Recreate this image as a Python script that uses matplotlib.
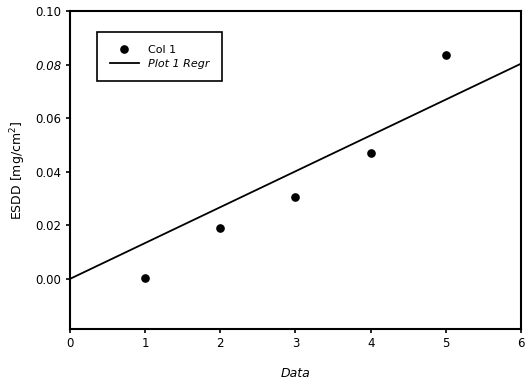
import numpy as np
import matplotlib
matplotlib.use("Agg")
import matplotlib.pyplot as plt

x_data = [1, 2, 3, 4, 5]
y_data = [0.0005, 0.0191, 0.0307, 0.0470, 0.0835]
x_ticks = [0, 1, 2, 3, 4, 5, 6]
y_ticks = [0.00, 0.02, 0.04, 0.06, 0.08, 0.10]
y_tick_labels = ["0.00", "0.02", "0.04", "0.06", "0.08", "0.10"]

plt.rcParams['font.family'] = ['DejaVu Sans']

fig = plt.figure(figsize=(5.26, 3.85), dpi=100)
ax = fig.add_axes([0.133, 0.1455, 0.8575, 0.826])

# regression through origin
xa = np.array(x_data, float)
ya = np.array(y_data, float)
slope = (xa * ya).sum() / (xa * xa).sum()
xr = np.array([0, 6], float)

ax.plot(x_data, y_data, 'o', color='black', ms=5.2, label='Col 1', zorder=3)
ax.plot(xr, slope * xr, '-', color='black', lw=1.3, label='Plot 1 Regr')

ax.set_xlim(0, 6)
ax.set_ylim(-0.0187, 0.10)
ax.set_xticks(x_ticks)
ax.set_yticks(y_ticks)
ax.set_yticklabels(y_tick_labels)
for lab in ax.get_yticklabels():
    if lab.get_text() == "0.08":
        lab.set_fontstyle('italic')

ax.tick_params(direction='out', length=3, width=1.2, labelsize=8.5, colors='black', pad=3)
for s in ax.spines.values():
    s.set_linewidth(1.5)
    s.set_color('black')

ax.set_xlabel('Data', fontsize=9, fontstyle='italic', labelpad=12)
ax.set_ylabel('ESDD [mg/cm$^2$]', fontsize=9, labelpad=5)

leg = ax.legend(loc='upper left', bbox_to_anchor=(0.06, 0.934), borderaxespad=0,
                fontsize=8, frameon=True, fancybox=False, edgecolor='black',
                framealpha=1, borderpad=1.15, handlelength=2.6, labelspacing=0.35)
leg.get_frame().set_linewidth(1.2)
leg.get_texts()[1].set_fontstyle('italic')

fig.savefig('out.png', dpi=100)
